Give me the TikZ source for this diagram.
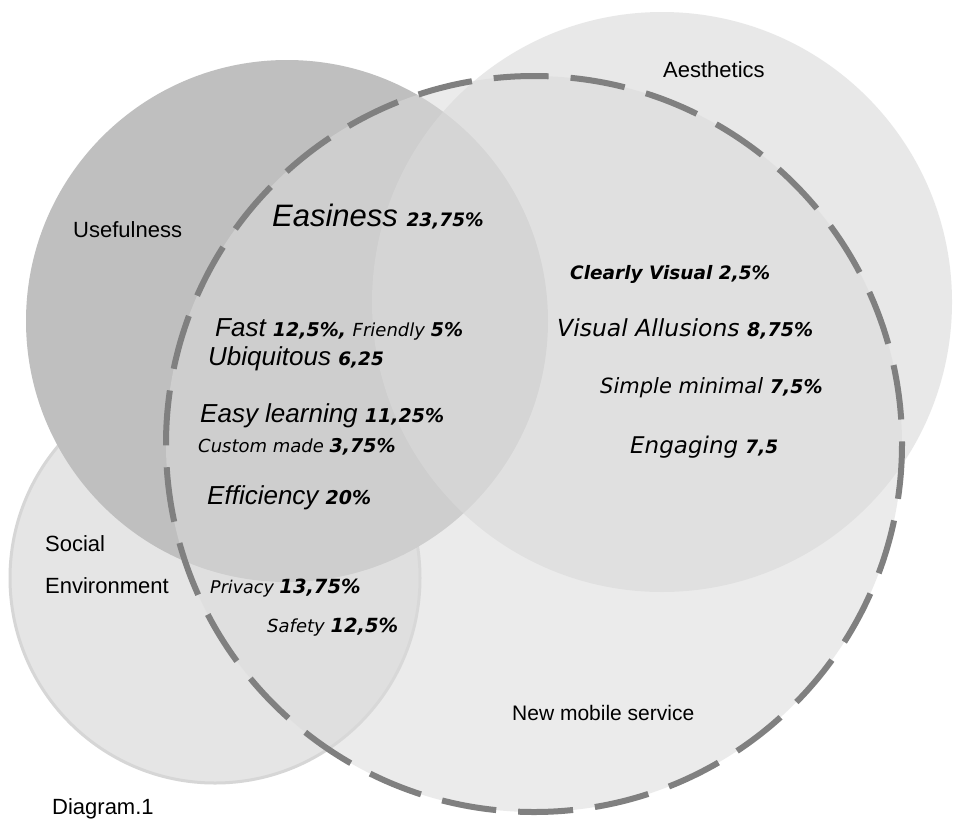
\documentclass[tikz,border=0pt]{standalone}
\usepackage{fontspec}
\setmainfont{Liberation Sans}
\newfontfamily\verd{DejaVu Sans}
\newcommand\fsz[1]{\fontsize{#1}{#1}\selectfont}
\newcommand\pctv[2]{{\verd\fsz{#1}\bfseries\itshape #2}}
\newcommand\itv[2]{{\verd\fsz{#1}\itshape #2}}
\newcommand\ita[2]{{\fsz{#1}\itshape #2}}
\definecolor{usec}{HTML}{BFBFBF}
\definecolor{socc}{HTML}{E5E5E5}
\definecolor{socrim}{HTML}{D6D6D6}
\definecolor{aesc}{HTML}{D9D9D9}
\definecolor{newc}{HTML}{DBDBDB}
\definecolor{dashc}{HTML}{808080}
\tikzset{
  lbl/.style={inner sep=0pt, anchor=base west, text=black},
  plain/.style={lbl, font=\fsz{22}},
}
\begin{document}
\begin{tikzpicture}[x=1pt,y=-1pt]
\useasboundingbox (0,0) rectangle (963,820);
\fill[white] (0,0) rectangle (963,820);
% circles
\filldraw[fill=socc, draw=socrim, line width=3] (215,578) circle[radius=205];
\fill[usec] (287,321) circle[radius=261];
\fill[aesc, fill opacity=0.6] (662,302) circle[radius=290];
\fill[newc, fill opacity=0.54] (534,444) circle[radius=368];
\draw[dashc, line width=6, dash pattern=on 55 off 22] (534,444) circle[radius=368];
% category labels
\node[plain] (use) at (73,237) {Usefulness};
\node[plain] (aes) at (663,77) {Aesthetics};
\node[plain] (soc1) at (45,551) {Social};
\node[plain] (soc2) at (45,593) {Environment};
\node[lbl, font=\fsz{21}] (new) at (512,720) {New mobile service};
\node[plain] (diag) at (52,814) {Diagram.1};
% items
\node[lbl] (eas) at (272,226) {\ita{31}{Easiness }\pctv{18.5}{23,75\%}};
\node[lbl] (fast) at (215,336) {\ita{26}{Fast }\pctv{19}{12,5\%, }\itv{18}{Friendly }\pctv{19}{5\%}};
\node[lbl] (ubi) at (208,365) {\ita{26}{Ubiquitous }\pctv{18.5}{6,25}};
\node[lbl] (easy) at (200,422) {\ita{26}{Easy learning }\pctv{19}{11,25\%}};
\node[lbl] (cust) at (198,452) {\itv{18}{Custom made }\pctv{19}{3,75\%}};
\node[lbl] (eff) at (207,504) {\ita{26}{Efficiency }\pctv{19}{20\%}};
\node[lbl] (clear) at (570,279) {\pctv{18.5}{Clearly Visual 2,5\%}};
\node[lbl] (vis) at (557,336) {\itv{23.5}{Visual Allusions }\pctv{19}{8,75\%}};
\node[lbl] (simp) at (600,393) {\itv{21}{Simple minimal }\pctv{19}{7,5\%}};
\node[lbl] (eng) at (630,453) {\itv{23}{Engaging }\pctv{18.5}{7,5}};
\node[lbl] (priv) at (210,593) {\itv{17.5}{Privacy }\pctv{19.5}{13,75\%}};
\node[lbl] (safe) at (267,632) {\itv{18}{Safety }\pctv{19.5}{12,5\%}};
\end{tikzpicture}
\end{document}
